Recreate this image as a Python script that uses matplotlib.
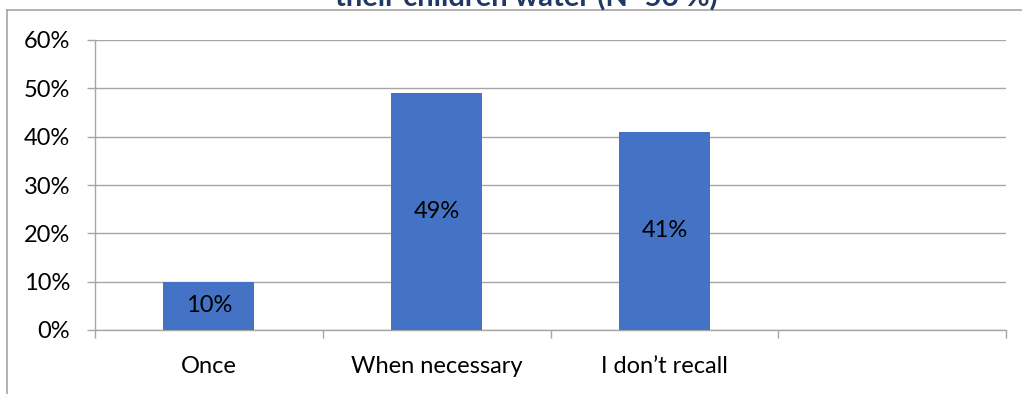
import numpy as np
import matplotlib as mpl
mpl.use('agg')
import matplotlib.pyplot as plt
from matplotlib.lines import Line2D

plt.rcParams['font.family'] = ['Lato', 'DejaVu Sans']

# answers and share of respondents
categories = ['Once', 'When necessary', 'I don\u2019t recall', '']
values = [0.10, 0.49, 0.41, None]
value_labels = ['10%', '49%', '41%']
yticks = [0, 0.1, 0.2, 0.3, 0.4, 0.5, 0.6]
ytick_labels = ['0%', '10%', '20%', '30%', '40%', '50%', '60%']
title = 'their children water (N=56 %)'

grid_col = '#a6a6a6'
bar_col = '#4472c4'
fs = 17

fig = plt.figure(figsize=(10.22, 3.94), dpi=100)
ax = fig.add_axes([95/1022, 1-330/394, (1006-95)/1022, 290/394])

x = np.arange(len(categories))
for i, v in enumerate(values):
    if v is None:
        continue
    ax.bar(x[i], v, width=0.4, color=bar_col, zorder=3)
    ax.text(x[i], v/2, value_labels[i], ha='center', va='center',
            fontsize=fs, color='black', zorder=4)

ax.set_xlim(-0.5, len(categories)-0.5)
ax.set_ylim(0, 0.6)
ax.set_yticks(yticks)
ax.set_yticklabels(ytick_labels, fontsize=fs)
ax.set_xticks(x)
ax.set_xticklabels(categories, fontsize=fs)
ax.set_xticks(np.arange(len(categories)+1)-0.5, minor=True)
ax.tick_params(axis='x', which='major', length=0, pad=19)
ax.tick_params(axis='x', which='minor', length=6, color=grid_col, width=1)
ax.tick_params(axis='y', length=6, color=grid_col, width=1, pad=12)
ax.grid(axis='y', color=grid_col, lw=1, zorder=0)
for s in ['top', 'right']:
    ax.spines[s].set_visible(False)
for s in ['left', 'bottom']:
    ax.spines[s].set_color(grid_col)
    ax.spines[s].set_linewidth(1)

# chart frame and the bottom of the title
fig.add_artist(Line2D([7/1022, 1], [1-10/394, 1-10/394], color=grid_col, lw=1.2))
fig.add_artist(Line2D([7/1022, 7/1022], [0, 1-10/394], color=grid_col, lw=1.2))
fig.text(526/1022, 1-6/394, title, ha='center', va='baseline',
         fontsize=21, fontweight='bold', color='#1f3864')

fig.savefig('out.png', dpi=100)
